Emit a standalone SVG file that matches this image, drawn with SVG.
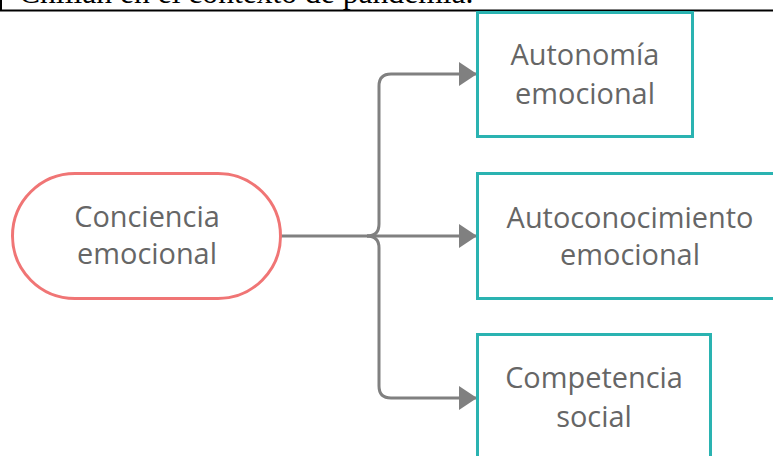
<svg xmlns="http://www.w3.org/2000/svg" width="773" height="456" viewBox="0 0 773 456">
<defs>
<style>
.hdr{font-family:"Liberation Serif","Times New Roman",serif;font-size:31.6px;fill:#000}
.lbl{font-family:"Open Sans","Noto Sans",sans-serif;font-size:28.9px;fill:#666666;text-anchor:middle}
.box{fill:#ffffff;stroke:#2AB3B1;stroke-width:3}
.pill{fill:#ffffff;stroke:#F07575;stroke-width:3}
.con{fill:none;stroke:#808080;stroke-width:3;stroke-linejoin:round}
</style>
<marker id="arr" markerWidth="18" markerHeight="24" refX="18" refY="12" orient="auto" markerUnits="userSpaceOnUse">
<path d="M0,0 L18,12 L0,24 Z" fill="#808080"/>
</marker>
</defs>
<rect width="773" height="456" fill="#ffffff"/>
<g id="header">
<text class="hdr" x="19" y="3">Chillán en el contexto de pandemia.</text>
<line x1="0" y1="10.5" x2="773" y2="10.5" stroke="#000" stroke-width="2"/>
<line x1="1" y1="0" x2="1" y2="11" stroke="#000" stroke-width="2"/>
</g>
<g id="connectors">
<path class="con" d="M281,236 H477" marker-end="url(#arr)"/>
<path class="con" d="M367,236 Q379,236 379,224 V86 Q379,74 391,74 H477" marker-end="url(#arr)"/>
<path class="con" d="M367,236 Q379,236 379,248 V386 Q379,398 391,398 H477" marker-end="url(#arr)"/>
</g>
<g id="node-conciencia">
<rect class="pill" x="12.5" y="173.5" width="268" height="125" rx="62.5" ry="62.5"/>
<text class="lbl" x="147" y="227">Conciencia</text>
<text class="lbl" x="147" y="264">emocional</text>
</g>
<g id="node-autonomia">
<rect class="box" x="477.5" y="12.5" width="215" height="124"/>
<text class="lbl" x="585" y="65">Autonomía</text>
<text class="lbl" x="585" y="104">emocional</text>
</g>
<g id="node-autoconocimiento">
<rect class="box" x="477.5" y="173.5" width="306" height="125"/>
<text class="lbl" x="630" y="228">Autoconocimiento</text>
<text class="lbl" x="630" y="265">emocional</text>
</g>
<g id="node-competencia">
<rect class="box" x="477.5" y="334.5" width="233" height="140"/>
<text class="lbl" x="594" y="388">Competencia</text>
<text class="lbl" x="594" y="427">social</text>
</g>
</svg>
